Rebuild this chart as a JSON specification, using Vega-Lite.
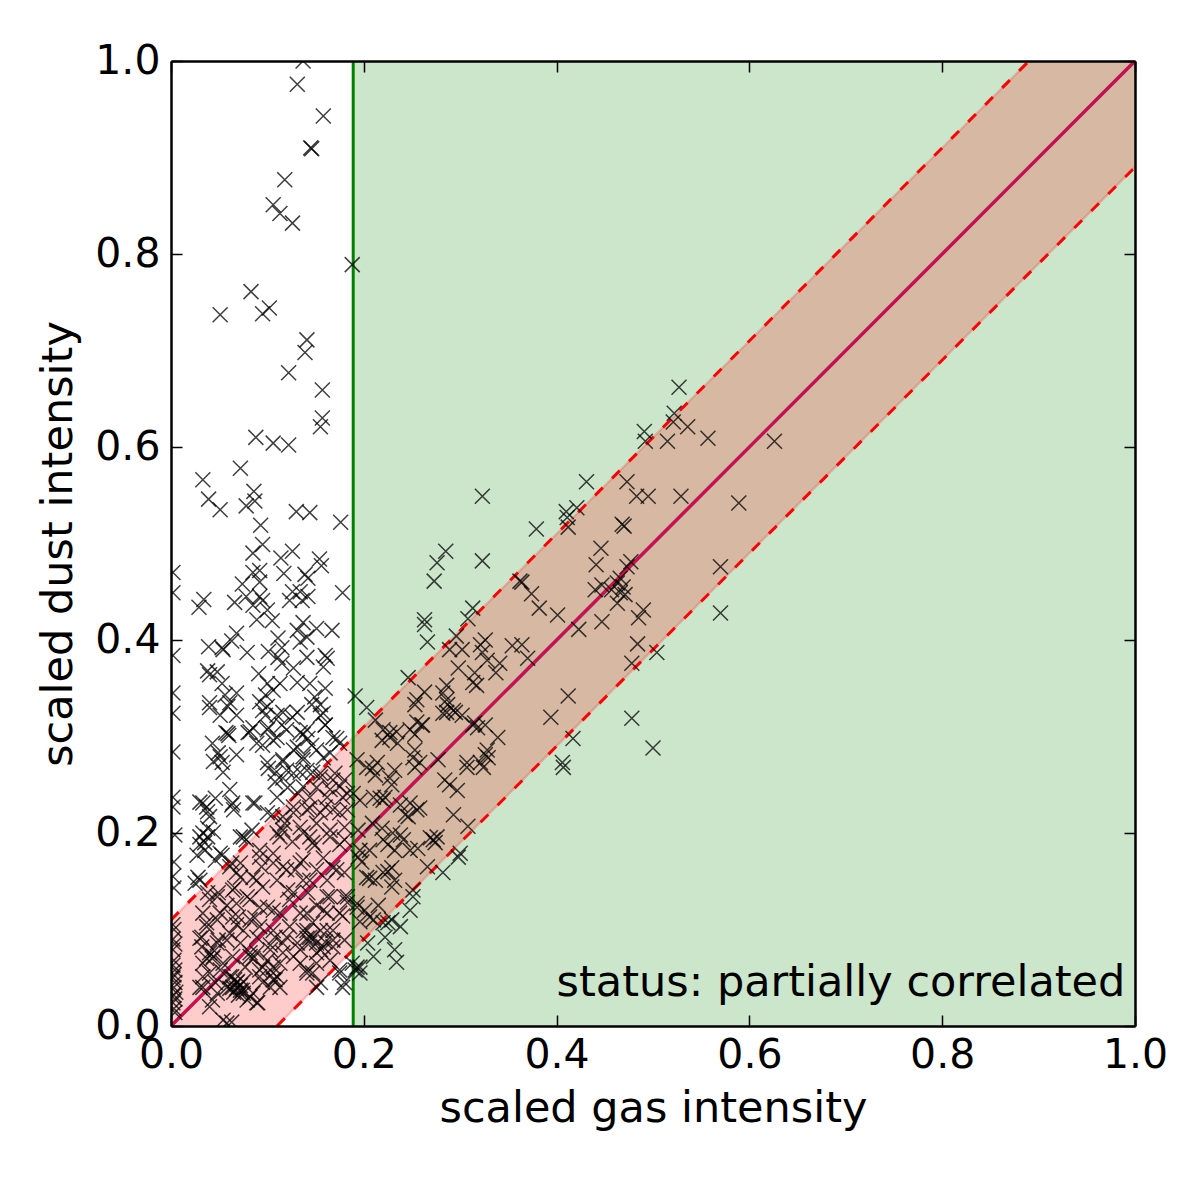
{"$schema":"https://vega.github.io/schema/vega-lite/v6.json","width":964,"height":965,"autosize":{"type":"none"},"padding":{"left":171,"top":61,"right":61,"bottom":156},"background":"white","config":{"view":{"stroke":null},"font":"DejaVu Sans"},"datasets":{"region":[{"a":0.189,"b":1}],"band":[{"g":0,"lo":0,"hi":0.11},{"g":0.11,"lo":0,"hi":0.22},{"g":0.89,"lo":0.78,"hi":1},{"g":1,"lo":0.89,"hi":1}],"upper":[{"g":0,"d":0.11},{"g":0.89,"d":1}],"lower":[{"g":0.11,"d":0},{"g":1,"d":0.89}],"diag":[{"g":0,"d":0},{"g":1,"d":1}],"pts":[{"g":0.137,"d":1.0},{"g":0.131,"d":0.976},{"g":0.158,"d":0.943},{"g":0.145,"d":0.91},{"g":0.146,"d":0.909},{"g":0.118,"d":0.877},{"g":0.106,"d":0.851},{"g":0.113,"d":0.842},{"g":0.126,"d":0.832},{"g":0.188,"d":0.789},{"g":0.083,"d":0.761},{"g":0.051,"d":0.737},{"g":0.102,"d":0.744},{"g":0.095,"d":0.738},{"g":0.141,"d":0.711},{"g":0.139,"d":0.698},{"g":0.157,"d":0.659},{"g":0.122,"d":0.677},{"g":0.157,"d":0.63},{"g":0.155,"d":0.621},{"g":0.088,"d":0.61},{"g":0.106,"d":0.604},{"g":0.122,"d":0.602},{"g":0.072,"d":0.578},{"g":0.033,"d":0.566},{"g":0.039,"d":0.546},{"g":0.051,"d":0.535},{"g":0.086,"d":0.554},{"g":0.087,"d":0.544},{"g":0.078,"d":0.539},{"g":0.13,"d":0.533},{"g":0.144,"d":0.532},{"g":0.176,"d":0.522},{"g":0.093,"d":0.519},{"g":0.095,"d":0.499},{"g":0.085,"d":0.49},{"g":0.126,"d":0.492},{"g":0.114,"d":0.485},{"g":0.154,"d":0.484},{"g":0.156,"d":0.477},{"g":0.092,"d":0.472},{"g":0.085,"d":0.47},{"g":0.117,"d":0.469},{"g":0.142,"d":0.464},{"g":0.139,"d":0.468},{"g":0.092,"d":0.46},{"g":0.074,"d":0.458},{"g":0.002,"d":0.47},{"g":0.002,"d":0.449},{"g":0.178,"d":0.449},{"g":0.034,"d":0.442},{"g":0.029,"d":0.434},{"g":0.066,"d":0.439},{"g":0.078,"d":0.445},{"g":0.092,"d":0.445},{"g":0.085,"d":0.436},{"g":0.095,"d":0.441},{"g":0.126,"d":0.45},{"g":0.134,"d":0.45},{"g":0.142,"d":0.445},{"g":0.123,"d":0.441},{"g":0.136,"d":0.441},{"g":0.1,"d":0.431},{"g":0.089,"d":0.421},{"g":0.105,"d":0.42},{"g":0.137,"d":0.418},{"g":0.131,"d":0.41},{"g":0.151,"d":0.412},{"g":0.167,"d":0.41},{"g":0.068,"d":0.407},{"g":0.063,"d":0.399},{"g":0.111,"d":0.402},{"g":0.141,"d":0.403},{"g":0.134,"d":0.398},{"g":0.039,"d":0.393},{"g":0.053,"d":0.392},{"g":0.054,"d":0.39},{"g":0.079,"d":0.387},{"g":0.101,"d":0.388},{"g":0.115,"d":0.392},{"g":0.141,"d":0.382},{"g":0.16,"d":0.384},{"g":0.162,"d":0.381},{"g":0.002,"d":0.384},{"g":0.111,"d":0.382},{"g":0.115,"d":0.376},{"g":0.127,"d":0.371},{"g":0.158,"d":0.372},{"g":0.038,"d":0.368},{"g":0.048,"d":0.367},{"g":0.04,"d":0.364},{"g":0.091,"d":0.365},{"g":0.053,"d":0.355},{"g":0.1,"d":0.355},{"g":0.113,"d":0.355},{"g":0.131,"d":0.356},{"g":0.144,"d":0.355},{"g":0.002,"d":0.345},{"g":0.16,"d":0.35},{"g":0.068,"d":0.345},{"g":0.056,"d":0.343},{"g":0.098,"d":0.343},{"g":0.106,"d":0.348},{"g":0.149,"d":0.341},{"g":0.04,"d":0.335},{"g":0.061,"d":0.335},{"g":0.092,"d":0.336},{"g":0.1,"d":0.331},{"g":0.155,"d":0.333},{"g":0.116,"d":0.325},{"g":0.131,"d":0.325},{"g":0.051,"d":0.322},{"g":0.068,"d":0.322},{"g":0.098,"d":0.322},{"g":0.155,"d":0.322},{"g":0.002,"d":0.324},{"g":0.059,"d":0.303},{"g":0.06,"d":0.301},{"g":0.057,"d":0.304},{"g":0.085,"d":0.309},{"g":0.08,"d":0.304},{"g":0.101,"d":0.309},{"g":0.12,"d":0.307},{"g":0.141,"d":0.307},{"g":0.16,"d":0.312},{"g":0.137,"d":0.302},{"g":0.043,"d":0.293},{"g":0.095,"d":0.291},{"g":0.11,"d":0.299},{"g":0.131,"d":0.289},{"g":0.146,"d":0.291},{"g":0.168,"d":0.299},{"g":0.175,"d":0.293},{"g":0.002,"d":0.284},{"g":0.049,"d":0.283},{"g":0.068,"d":0.281},{"g":0.044,"d":0.274},{"g":0.054,"d":0.263},{"g":0.053,"d":0.273},{"g":0.116,"d":0.276},{"g":0.101,"d":0.267},{"g":0.137,"d":0.276},{"g":0.158,"d":0.278},{"g":0.12,"d":0.265},{"g":0.108,"d":0.262},{"g":0.134,"d":0.263},{"g":0.147,"d":0.263},{"g":0.116,"d":0.257},{"g":0.061,"d":0.245},{"g":0.033,"d":0.231},{"g":0.038,"d":0.222},{"g":0.046,"d":0.236},{"g":0.04,"d":0.217},{"g":0.064,"d":0.231},{"g":0.065,"d":0.224},{"g":0.085,"d":0.231},{"g":0.11,"d":0.237},{"g":0.002,"d":0.237},{"g":0.002,"d":0.227},{"g":0.004,"d":0.198},{"g":0.03,"d":0.196},{"g":0.038,"d":0.205},{"g":0.072,"d":0.196},{"g":0.1,"d":0.221},{"g":0.116,"d":0.203},{"g":0.137,"d":0.248},{"g":0.155,"d":0.258},{"g":0.168,"d":0.255},{"g":0.144,"d":0.237},{"g":0.162,"d":0.237},{"g":0.175,"d":0.248},{"g":0.183,"d":0.241},{"g":0.127,"d":0.227},{"g":0.141,"d":0.224},{"g":0.155,"d":0.221},{"g":0.168,"d":0.224},{"g":0.183,"d":0.224},{"g":0.116,"d":0.217},{"g":0.134,"d":0.206},{"g":0.151,"d":0.21},{"g":0.165,"d":0.203},{"g":0.18,"d":0.206},{"g":0.11,"d":0.2},{"g":0.144,"d":0.196},{"g":0.038,"d":0.196},{"g":0.03,"d":0.188},{"g":0.035,"d":0.182},{"g":0.027,"d":0.177},{"g":0.053,"d":0.177},{"g":0.046,"d":0.172},{"g":0.061,"d":0.165},{"g":0.068,"d":0.159},{"g":0.03,"d":0.151},{"g":0.025,"d":0.148},{"g":0.075,"d":0.196},{"g":0.085,"d":0.154},{"g":0.094,"d":0.165},{"g":0.072,"d":0.169},{"g":0.092,"d":0.182},{"g":0.106,"d":0.179},{"g":0.126,"d":0.191},{"g":0.147,"d":0.19},{"g":0.113,"d":0.196},{"g":0.137,"d":0.172},{"g":0.158,"d":0.174},{"g":0.168,"d":0.164},{"g":0.175,"d":0.188},{"g":0.116,"d":0.165},{"g":0.11,"d":0.151},{"g":0.129,"d":0.162},{"g":0.144,"d":0.151},{"g":0.162,"d":0.151},{"g":0.18,"d":0.159},{"g":0.095,"d":0.144},{"g":0.079,"d":0.134},{"g":0.066,"d":0.143},{"g":0.049,"d":0.138},{"g":0.038,"d":0.138},{"g":0.033,"d":0.117},{"g":0.03,"d":0.091},{"g":0.037,"d":0.103},{"g":0.048,"d":0.11},{"g":0.058,"d":0.125},{"g":0.07,"d":0.113},{"g":0.068,"d":0.105},{"g":0.092,"d":0.123},{"g":0.087,"d":0.112},{"g":0.106,"d":0.12},{"g":0.127,"d":0.138},{"g":0.134,"d":0.117},{"g":0.151,"d":0.125},{"g":0.165,"d":0.134},{"g":0.18,"d":0.134},{"g":0.175,"d":0.117},{"g":0.162,"d":0.117},{"g":0.147,"d":0.107},{"g":0.137,"d":0.099},{"g":0.155,"d":0.099},{"g":0.168,"d":0.099},{"g":0.144,"d":0.092},{"g":0.151,"d":0.086},{"g":0.16,"d":0.087},{"g":0.155,"d":0.079},{"g":0.168,"d":0.082},{"g":0.141,"d":0.091},{"g":0.131,"d":0.086},{"g":0.18,"d":0.089},{"g":0.12,"d":0.092},{"g":0.108,"d":0.092},{"g":0.103,"d":0.084},{"g":0.089,"d":0.092},{"g":0.082,"d":0.076},{"g":0.085,"d":0.07},{"g":0.072,"d":0.086},{"g":0.058,"d":0.089},{"g":0.048,"d":0.086},{"g":0.04,"d":0.076},{"g":0.037,"d":0.07},{"g":0.044,"d":0.072},{"g":0.032,"d":0.082},{"g":0.051,"d":0.058},{"g":0.033,"d":0.051},{"g":0.03,"d":0.04},{"g":0.04,"d":0.055},{"g":0.068,"d":0.045},{"g":0.066,"d":0.048},{"g":0.072,"d":0.042},{"g":0.063,"d":0.051},{"g":0.074,"d":0.037},{"g":0.068,"d":0.039},{"g":0.061,"d":0.039},{"g":0.075,"d":0.046},{"g":0.058,"d":0.04},{"g":0.07,"d":0.032},{"g":0.065,"d":0.035},{"g":0.082,"d":0.03},{"g":0.089,"d":0.024},{"g":0.048,"d":0.034},{"g":0.04,"d":0.02},{"g":0.058,"d":0.003},{"g":0.063,"d":0.004},{"g":0.054,"d":0.006},{"g":0.092,"d":0.051},{"g":0.106,"d":0.055},{"g":0.108,"d":0.048},{"g":0.103,"d":0.04},{"g":0.113,"d":0.04},{"g":0.095,"d":0.061},{"g":0.113,"d":0.065},{"g":0.1,"d":0.068},{"g":0.127,"d":0.072},{"g":0.116,"d":0.076},{"g":0.141,"d":0.058},{"g":0.147,"d":0.055},{"g":0.155,"d":0.045},{"g":0.175,"d":0.055},{"g":0.178,"d":0.04},{"g":0.134,"d":0.065},{"g":0.151,"d":0.065},{"g":0.165,"d":0.068},{"g":0.188,"d":0.065},{"g":0.196,"d":0.055},{"g":0.003,"d":0.17},{"g":0.002,"d":0.155},{"g":0.003,"d":0.143},{"g":0.002,"d":0.105},{"g":0.003,"d":0.1},{"g":0.002,"d":0.09},{"g":0.004,"d":0.085},{"g":0.002,"d":0.079},{"g":0.003,"d":0.068},{"g":0.002,"d":0.063},{"g":0.004,"d":0.058},{"g":0.003,"d":0.053},{"g":0.002,"d":0.05},{"g":0.004,"d":0.045},{"g":0.003,"d":0.04},{"g":0.005,"d":0.035},{"g":0.003,"d":0.032},{"g":0.004,"d":0.028},{"g":0.002,"d":0.024},{"g":0.003,"d":0.018},{"g":0.004,"d":0.014},{"g":0.527,"d":0.662},{"g":0.522,"d":0.635},{"g":0.521,"d":0.626},{"g":0.536,"d":0.621},{"g":0.491,"d":0.616},{"g":0.492,"d":0.606},{"g":0.515,"d":0.606},{"g":0.557,"d":0.609},{"g":0.626,"d":0.606},{"g":0.431,"d":0.564},{"g":0.473,"d":0.564},{"g":0.483,"d":0.549},{"g":0.495,"d":0.549},{"g":0.529,"d":0.549},{"g":0.589,"d":0.542},{"g":0.323,"d":0.549},{"g":0.421,"d":0.537},{"g":0.41,"d":0.533},{"g":0.411,"d":0.527},{"g":0.412,"d":0.517},{"g":0.379,"d":0.515},{"g":0.468,"d":0.52},{"g":0.47,"d":0.518},{"g":0.285,"d":0.492},{"g":0.276,"d":0.48},{"g":0.273,"d":0.461},{"g":0.323,"d":0.482},{"g":0.446,"d":0.495},{"g":0.441,"d":0.478},{"g":0.477,"d":0.481},{"g":0.473,"d":0.476},{"g":0.57,"d":0.476},{"g":0.362,"d":0.461},{"g":0.364,"d":0.46},{"g":0.374,"d":0.448},{"g":0.382,"d":0.433},{"g":0.401,"d":0.426},{"g":0.447,"d":0.457},{"g":0.44,"d":0.452},{"g":0.466,"d":0.464},{"g":0.463,"d":0.459},{"g":0.469,"d":0.455},{"g":0.457,"d":0.452},{"g":0.463,"d":0.438},{"g":0.471,"d":0.447},{"g":0.466,"d":0.449},{"g":0.49,"d":0.431},{"g":0.485,"d":0.423},{"g":0.447,"d":0.419},{"g":0.423,"d":0.411},{"g":0.57,"d":0.428},{"g":0.313,"d":0.433},{"g":0.308,"d":0.422},{"g":0.263,"d":0.421},{"g":0.263,"d":0.416},{"g":0.266,"d":0.398},{"g":0.296,"d":0.404},{"g":0.289,"d":0.39},{"g":0.302,"d":0.39},{"g":0.326,"d":0.4},{"g":0.321,"d":0.395},{"g":0.323,"d":0.387},{"g":0.354,"d":0.394},{"g":0.364,"d":0.395},{"g":0.37,"d":0.381},{"g":0.484,"d":0.396},{"g":0.504,"d":0.387},{"g":0.478,"d":0.376},{"g":0.298,"d":0.371},{"g":0.328,"d":0.379},{"g":0.341,"d":0.376},{"g":0.337,"d":0.366},{"g":0.315,"d":0.366},{"g":0.313,"d":0.356},{"g":0.317,"d":0.353},{"g":0.263,"d":0.346},{"g":0.286,"d":0.353},{"g":0.282,"d":0.345},{"g":0.287,"d":0.333},{"g":0.282,"d":0.324},{"g":0.293,"d":0.327},{"g":0.302,"d":0.322},{"g":0.26,"d":0.312},{"g":0.313,"d":0.312},{"g":0.326,"d":0.312},{"g":0.318,"d":0.309},{"g":0.339,"d":0.299},{"g":0.412,"d":0.342},{"g":0.394,"d":0.32},{"g":0.478,"d":0.319},{"g":0.417,"d":0.298},{"g":0.5,"d":0.288},{"g":0.406,"d":0.273},{"g":0.407,"d":0.268},{"g":0.328,"d":0.286},{"g":0.326,"d":0.281},{"g":0.329,"d":0.278},{"g":0.307,"d":0.273},{"g":0.321,"d":0.273},{"g":0.277,"d":0.276},{"g":0.191,"d":0.342},{"g":0.203,"d":0.33},{"g":0.246,"d":0.361},{"g":0.255,"d":0.338},{"g":0.253,"d":0.333},{"g":0.286,"d":0.338},{"g":0.286,"d":0.325},{"g":0.295,"d":0.325},{"g":0.255,"d":0.315},{"g":0.261,"d":0.312},{"g":0.248,"d":0.307},{"g":0.253,"d":0.302},{"g":0.212,"d":0.317},{"g":0.22,"d":0.307},{"g":0.227,"d":0.299},{"g":0.234,"d":0.305},{"g":0.219,"d":0.296},{"g":0.235,"d":0.293},{"g":0.227,"d":0.304},{"g":0.315,"d":0.314},{"g":0.253,"d":0.286},{"g":0.251,"d":0.278},{"g":0.258,"d":0.273},{"g":0.253,"d":0.268},{"g":0.193,"d":0.276},{"g":0.209,"d":0.267},{"g":0.214,"d":0.273},{"g":0.203,"d":0.268},{"g":0.212,"d":0.26},{"g":0.227,"d":0.257},{"g":0.229,"d":0.25},{"g":0.307,"d":0.268},{"g":0.324,"d":0.268},{"g":0.284,"d":0.255},{"g":0.289,"d":0.25},{"g":0.297,"d":0.244},{"g":0.196,"d":0.234},{"g":0.21,"d":0.237},{"g":0.217,"d":0.236},{"g":0.222,"d":0.237},{"g":0.189,"d":0.241},{"g":0.248,"d":0.231},{"g":0.255,"d":0.224},{"g":0.258,"d":0.226},{"g":0.246,"d":0.217},{"g":0.238,"d":0.229},{"g":0.293,"d":0.219},{"g":0.308,"d":0.207},{"g":0.209,"d":0.21},{"g":0.219,"d":0.205},{"g":0.23,"d":0.2},{"g":0.241,"d":0.193},{"g":0.225,"d":0.188},{"g":0.238,"d":0.198},{"g":0.248,"d":0.182},{"g":0.256,"d":0.184},{"g":0.22,"d":0.193},{"g":0.232,"d":0.182},{"g":0.272,"d":0.193},{"g":0.269,"d":0.195},{"g":0.276,"d":0.196},{"g":0.274,"d":0.19},{"g":0.194,"d":0.203},{"g":0.196,"d":0.182},{"g":0.194,"d":0.175},{"g":0.198,"d":0.17},{"g":0.203,"d":0.154},{"g":0.3,"d":0.179},{"g":0.298,"d":0.175},{"g":0.282,"d":0.159},{"g":0.266,"d":0.165},{"g":0.225,"d":0.16},{"g":0.22,"d":0.159},{"g":0.229,"d":0.164},{"g":0.212,"d":0.151},{"g":0.206,"d":0.153},{"g":0.229,"d":0.144},{"g":0.251,"d":0.141},{"g":0.251,"d":0.134},{"g":0.183,"d":0.128},{"g":0.193,"d":0.127},{"g":0.201,"d":0.12},{"g":0.206,"d":0.113},{"g":0.196,"d":0.108},{"g":0.21,"d":0.11},{"g":0.22,"d":0.107},{"g":0.229,"d":0.11},{"g":0.225,"d":0.107},{"g":0.238,"d":0.103},{"g":0.222,"d":0.092},{"g":0.232,"d":0.079},{"g":0.234,"d":0.066},{"g":0.21,"d":0.072},{"g":0.204,"d":0.086},{"g":0.196,"d":0.061},{"g":0.191,"d":0.058},{"g":0.04,"d":0.33},{"g":0.059,"d":0.331},{"g":0.095,"d":0.327},{"g":0.11,"d":0.322},{"g":0.126,"d":0.32},{"g":0.146,"d":0.333},{"g":0.158,"d":0.324},{"g":0.082,"d":0.305},{"g":0.1,"d":0.307},{"g":0.115,"d":0.312},{"g":0.134,"d":0.304},{"g":0.142,"d":0.298},{"g":0.16,"d":0.312},{"g":0.172,"d":0.298},{"g":0.051,"d":0.279},{"g":0.089,"d":0.293},{"g":0.106,"d":0.296},{"g":0.127,"d":0.286},{"g":0.137,"d":0.279},{"g":0.151,"d":0.286},{"g":0.165,"d":0.283},{"g":0.116,"d":0.274},{"g":0.1,"d":0.273},{"g":0.127,"d":0.262},{"g":0.141,"d":0.265},{"g":0.155,"d":0.262},{"g":0.17,"d":0.262},{"g":0.18,"d":0.255},{"g":0.108,"d":0.253},{"g":0.121,"d":0.247},{"g":0.132,"d":0.241},{"g":0.151,"d":0.247},{"g":0.165,"d":0.245},{"g":0.178,"d":0.237},{"g":0.03,"d":0.232},{"g":0.037,"d":0.227},{"g":0.063,"d":0.229},{"g":0.087,"d":0.231},{"g":0.105,"d":0.219},{"g":0.118,"d":0.21},{"g":0.078,"d":0.193},{"g":0.084,"d":0.203},{"g":0.127,"d":0.221},{"g":0.144,"d":0.226},{"g":0.16,"d":0.227},{"g":0.175,"d":0.221},{"g":0.149,"d":0.187},{"g":0.137,"d":0.2},{"g":0.165,"d":0.196},{"g":0.18,"d":0.193},{"g":0.033,"d":0.2},{"g":0.044,"d":0.201},{"g":0.035,"d":0.19},{"g":0.051,"d":0.179},{"g":0.063,"d":0.169},{"g":0.028,"d":0.154},{"g":0.072,"d":0.154},{"g":0.092,"d":0.175},{"g":0.106,"d":0.169},{"g":0.12,"d":0.162},{"g":0.134,"d":0.169},{"g":0.151,"d":0.162},{"g":0.172,"d":0.162},{"g":0.137,"d":0.151},{"g":0.121,"d":0.141},{"g":0.089,"d":0.151},{"g":0.064,"d":0.141},{"g":0.048,"d":0.134},{"g":0.04,"d":0.131},{"g":0.051,"d":0.117},{"g":0.068,"d":0.127},{"g":0.082,"d":0.131},{"g":0.1,"d":0.123},{"g":0.113,"d":0.117},{"g":0.123,"d":0.131},{"g":0.142,"d":0.138},{"g":0.162,"d":0.134},{"g":0.183,"d":0.134},{"g":0.178,"d":0.114},{"g":0.193,"d":0.123},{"g":0.141,"d":0.117},{"g":0.158,"d":0.12},{"g":0.082,"d":0.11},{"g":0.064,"d":0.113},{"g":0.037,"d":0.107},{"g":0.032,"d":0.092},{"g":0.045,"d":0.078},{"g":0.043,"d":0.07},{"g":0.033,"d":0.065},{"g":0.049,"d":0.089},{"g":0.061,"d":0.096},{"g":0.075,"d":0.099},{"g":0.092,"d":0.103},{"g":0.106,"d":0.099},{"g":0.123,"d":0.103},{"g":0.141,"d":0.099},{"g":0.147,"d":0.092},{"g":0.162,"d":0.099},{"g":0.144,"d":0.086},{"g":0.158,"d":0.082},{"g":0.151,"d":0.076},{"g":0.168,"d":0.089},{"g":0.134,"d":0.079},{"g":0.116,"d":0.086},{"g":0.103,"d":0.079},{"g":0.082,"d":0.072},{"g":0.089,"d":0.076},{"g":0.064,"d":0.072},{"g":0.054,"d":0.065},{"g":0.106,"d":0.061},{"g":0.11,"d":0.051},{"g":0.092,"d":0.058},{"g":0.077,"d":0.061},{"g":0.061,"d":0.051},{"g":0.069,"d":0.046},{"g":0.072,"d":0.037},{"g":0.064,"d":0.04},{"g":0.075,"d":0.034},{"g":0.085,"d":0.034},{"g":0.095,"d":0.045},{"g":0.106,"d":0.048},{"g":0.046,"d":0.045},{"g":0.033,"d":0.04},{"g":0.043,"d":0.027},{"g":0.079,"d":0.027},{"g":0.09,"d":0.024},{"g":0.141,"d":0.055},{"g":0.151,"d":0.04},{"g":0.175,"d":0.058},{"g":0.18,"d":0.045},{"g":0.193,"d":0.061},{"g":0.22,"d":0.234},{"g":0.232,"d":0.265},{"g":0.243,"d":0.219},{"g":0.206,"d":0.182},{"g":0.215,"d":0.125},{"g":0.232,"d":0.151},{"g":0.248,"d":0.12}],"note":[{"g":0.99,"d":0.031,"t":"status: partially correlated"}]},"layer":[{"data":{"name":"region"},"mark":{"type":"rect","fill":"#008000","opacity":0.2},"encoding":{"x":{"field":"a","type":"quantitative","scale":{"domain":[0,1],"nice":false,"zero":false},"axis":null},"x2":{"field":"b"}}},{"data":{"name":"band"},"mark":{"type":"area","fill":"#ff0000","opacity":0.2,"clip":true},"encoding":{"x":{"field":"g","type":"quantitative","axis":null},"y":{"field":"lo","type":"quantitative","scale":{"domain":[0,1],"nice":false},"axis":null},"y2":{"field":"hi"}}},{"data":{"name":"upper"},"mark":{"type":"line","stroke":"#ff0000","strokeWidth":2.5,"strokeOpacity":0.18,"clip":true},"encoding":{"x":{"field":"g","type":"quantitative","axis":null},"y":{"field":"d","type":"quantitative","axis":null}}},{"data":{"name":"lower"},"mark":{"type":"line","stroke":"#ff0000","strokeWidth":2.5,"strokeOpacity":0.18,"clip":true},"encoding":{"x":{"field":"g","type":"quantitative","axis":null},"y":{"field":"d","type":"quantitative","axis":null}}},{"data":{"name":"upper"},"mark":{"type":"line","stroke":"#ff0000","strokeWidth":3,"strokeDash":[11,13],"clip":true},"encoding":{"x":{"field":"g","type":"quantitative","axis":null},"y":{"field":"d","type":"quantitative","axis":null}}},{"data":{"name":"lower"},"mark":{"type":"line","stroke":"#ff0000","strokeWidth":3,"strokeDash":[11,13],"clip":true},"encoding":{"x":{"field":"g","type":"quantitative","axis":null},"y":{"field":"d","type":"quantitative","axis":null}}},{"data":{"name":"diag"},"mark":{"type":"line","stroke":"#5a3fa0","strokeWidth":3.5,"clip":true},"encoding":{"x":{"field":"g","type":"quantitative","axis":null},"y":{"field":"d","type":"quantitative","axis":null}}},{"data":{"name":"diag"},"mark":{"type":"line","stroke":"#f00030","strokeWidth":2.4,"clip":true},"encoding":{"x":{"field":"g","type":"quantitative","axis":null},"y":{"field":"d","type":"quantitative","axis":null}}},{"data":{"name":"region"},"mark":{"type":"rule","stroke":"#008000","strokeWidth":3},"encoding":{"x":{"field":"a","type":"quantitative","axis":null}}},{"data":{"name":"pts"},"mark":{"type":"point","shape":"M-1,-1L1,1M-1,1L1,-1","filled":false,"stroke":"#000000","strokeWidth":1.5,"opacity":0.75,"size":225,"clip":true},"encoding":{"x":{"field":"g","type":"quantitative","axis":{"title":"scaled gas intensity","titleFontSize":43,"titleFontWeight":"normal","titleColor":"#000000","titlePadding":12,"labelFontSize":41,"labelColor":"#000000","labelFlush":false,"labelOverlap":false,"labelBound":false,"labelPadding":20,"values":[0,0.2,0.4,0.6,0.8,1],"format":".1f","tickSize":-11,"tickColor":"#000000","tickWidth":1.5,"grid":false,"domainColor":"#000000","domainWidth":2.5,"zindex":1}},"y":{"field":"d","type":"quantitative","axis":{"title":"scaled dust intensity","titleFontSize":43,"titleFontWeight":"normal","titleColor":"#000000","titlePadding":14,"labelFontSize":41,"labelColor":"#000000","labelFlush":false,"labelOverlap":false,"labelBound":false,"labelPadding":22,"values":[0,0.2,0.4,0.6,0.8,1],"format":".1f","tickSize":-11,"tickColor":"#000000","tickWidth":1.5,"grid":false,"domainColor":"#000000","domainWidth":2.5,"zindex":1}}}},{"data":{"name":"note"},"mark":{"type":"text","align":"right","baseline":"alphabetic","font":"DejaVu Sans","fontSize":43,"color":"#000000"},"encoding":{"x":{"field":"g","type":"quantitative","axis":{"orient":"top","title":null,"labels":false,"values":[0,0.2,0.4,0.6,0.8,1],"tickSize":-11,"tickColor":"#000000","tickWidth":1.5,"grid":false,"domainColor":"#000000","domainWidth":2.5,"zindex":1}},"y":{"field":"d","type":"quantitative","axis":{"orient":"right","title":null,"labels":false,"values":[0,0.2,0.4,0.6,0.8,1],"tickSize":-11,"tickColor":"#000000","tickWidth":1.5,"grid":false,"domainColor":"#000000","domainWidth":2.5,"zindex":1}},"text":{"field":"t"}}}],"resolve":{"axis":{"x":"independent","y":"independent"}}}
